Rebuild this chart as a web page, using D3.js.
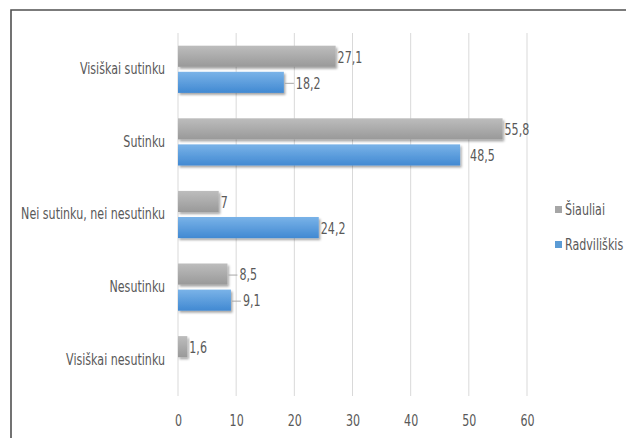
<!DOCTYPE html>
<html>
<head>
<meta charset="utf-8">
<title>Šiauliai / Radviliškis</title>
<script src="https://d3js.org/d3.v7.min.js"></script>
<style>
  body { margin: 0; background: #fff; }
  text { font-family: "DejaVu Sans", sans-serif; fill: #595959; }
</style>
</head>
<body>
<svg id="chart" width="626" height="438"></svg>
<script>
const categories = ["Visiškai sutinku", "Sutinku", "Nei sutinku, nei nesutinku", "Nesutinku", "Visiškai nesutinku"];
const series = ["Šiauliai", "Radviliškis"];
const siauliai = [27.1, 55.8, 7, 8.5, 1.6];
const radviliskis = [18.2, 48.5, 24.2, 9.1, null];
const xTicks = [0, 10, 20, 30, 40, 50, 60];

// labels Excel pushed out with a leader line (px gap)
const leaders = { "18,2": 12, "48,5": 10, "8,5": 12, "9,1": 12 };

const svg = d3.select("#chart");
const width = 626, height = 438;
const margin = { top: 33, left: 178, bottom: 42 };
const fs = "15px";
const k = 0.74; // narrow the glyphs, the original uses Calibri

const squeeze = sel => sel.each(function () {
  const t = d3.select(this);
  const xv = +t.attr("x") || 0;
  t.attr("x", xv / k).attr("transform", `scale(${k},1)`).style("font-size", fs);
});

const x = d3.scaleLinear().domain([0, 60]).range([margin.left, 527]);
const y = d3.scaleBand().domain(categories).range([margin.top, height - margin.bottom]).paddingInner(0.35).paddingOuter(0.175);
const y1 = d3.scaleBand().domain(series).range([0, y.bandwidth()]).paddingInner(0.19);

const fmt = v => String(v).replace(".", ",");

const defs = svg.append("defs");
const grads = [["g0", "#bdbdbd", "#999999"], ["g1", "#7ab3e8", "#4189d2"]];
grads.forEach(([id, c1, c2]) => {
  const g = defs.append("linearGradient").attr("id", id).attr("x1", 0).attr("y1", 0).attr("x2", 0).attr("y2", 1);
  g.append("stop").attr("offset", "0%").attr("stop-color", c1);
  g.append("stop").attr("offset", "100%").attr("stop-color", c2);
});
defs.append("filter").attr("id", "shadow").attr("x", "-10%").attr("y", "-30%").attr("width", "130%").attr("height", "180%")
  .append("feDropShadow").attr("dx", 1.5).attr("dy", 2).attr("stdDeviation", 1.3)
  .attr("flood-color", "#000").attr("flood-opacity", 0.35);

// frame
svg.append("path").attr("d", `M11,${height} V10 H${width}`).attr("fill", "none")
  .attr("stroke", "#505050").attr("stroke-width", 1.6);

// grid
svg.append("g").selectAll("line").data(xTicks).join("line")
  .attr("x1", d => x(d)).attr("x2", d => x(d))
  .attr("y1", margin.top).attr("y2", height - margin.bottom)
  .attr("stroke", "#d9d9d9").attr("stroke-width", 1);

const xAxis = svg.append("g").attr("transform", `translate(0,${height - margin.bottom})`)
  .call(d3.axisBottom(x).tickValues(xTicks).tickSize(0).tickPadding(19));
xAxis.select(".domain").remove();
xAxis.selectAll("text").attr("fill", "#595959").call(squeeze);

const yAxis = svg.append("g").attr("transform", `translate(${margin.left},0)`)
  .call(d3.axisLeft(y).tickSize(0).tickPadding(13));
yAxis.select(".domain").remove();
yAxis.selectAll("text").attr("fill", "#595959").call(squeeze);

const rows = [];
categories.forEach((c, i) => {
  rows.push({ cat: c, s: series[0], v: siauliai[i], fill: "url(#g0)" });
  if (radviliskis[i] != null) rows.push({ cat: c, s: series[1], v: radviliskis[i], fill: "url(#g1)" });
});

svg.append("g").selectAll("rect").data(rows).join("rect")
  .attr("x", x(0))
  .attr("y", d => y(d.cat) + y1(d.s))
  .attr("width", d => x(d.v) - x(0))
  .attr("height", y1.bandwidth())
  .attr("fill", d => d.fill)
  .attr("filter", "url(#shadow)");

const lab = svg.append("g");
rows.forEach(d => {
  const t = fmt(d.v);
  const gap = leaders[t] || 2;
  const cy = y(d.cat) + y1(d.s) + y1.bandwidth() / 2 + 1;
  const x0 = x(d.v);
  if (leaders[t] && t !== "48,5") {
    lab.append("line").attr("x1", x0 + 1).attr("x2", x0 + gap - 2)
      .attr("y1", cy).attr("y2", cy).attr("stroke", "#a6a6a6").attr("stroke-width", 1);
  }
  lab.append("text").attr("x", x0 + gap).attr("y", cy).attr("dy", "0.35em").text(t).call(squeeze);
});

// legend
const colors = ["#a6a6a6", "#5b9bd5"];
series.forEach((s, i) => {
  const ly = 210 + i * 35;
  svg.append("rect").attr("x", 555).attr("y", ly - 4).attr("width", 7).attr("height", 7).attr("fill", colors[i]);
  svg.append("text").attr("x", 565).attr("y", ly).attr("dy", "0.35em").text(s).call(squeeze);
});
</script>
</body>
</html>
